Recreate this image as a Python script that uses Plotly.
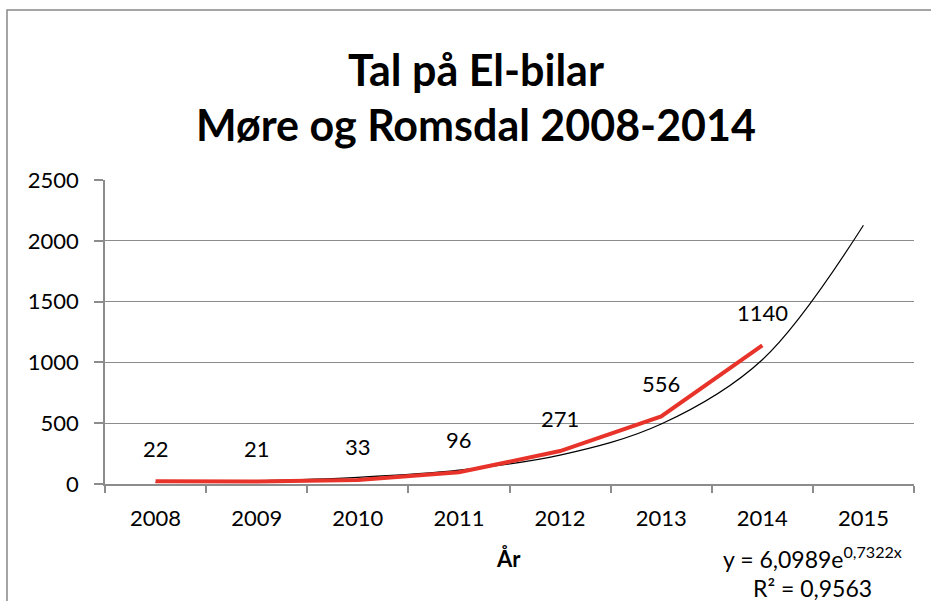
import plotly.graph_objects as go

years = ["2008", "2009", "2010", "2011", "2012", "2013", "2014", "2015"]
data_years = ["2008", "2009", "2010", "2011", "2012", "2013", "2014"]
cars = [22, 21, 33, 96, 271, 556, 1140]
# Trendline values at each category
trend = [13, 26, 55, 114, 237, 493, 1022, 2128]
y_ticks = [0, 500, 1000, 1500, 2000, 2500]

FONT = "Lato, Carlito, Calibri, sans-serif"
GRID = "#8c8c8c"


def py(p):
    """pixel row -> paper y (plot area: 180..484)"""
    return (484 - p) / 304.0


def px(p):
    """pixel column -> paper x (plot area: 105..914)"""
    return (p - 105) / 809.0


fig = go.Figure()
fig.add_trace(go.Scatter(
    x=years, y=trend, mode="lines",
    line=dict(color="black", width=1.2, shape="spline", smoothing=1.0),
    showlegend=False, hoverinfo="skip"))
fig.add_trace(go.Scatter(
    x=data_years, y=cars, mode="lines",
    line=dict(color="#e8332a", width=4),
    showlegend=False))

for i, yv in enumerate(cars):
    fig.add_annotation(x=i, y=yv, xref="x", yref="y", text=str(yv), showarrow=False,
                       yshift=33, xanchor="center", yanchor="middle",
                       font=dict(size=22, color="black", family=FONT))


def label(text, x, y, size, bold=False):
    fig.add_annotation(xref="paper", yref="paper", x=px(x), y=py(y),
                       text=f"<b>{text}</b>" if bold else text, showarrow=False,
                       xanchor="center", yanchor="middle",
                       font=dict(size=size, color="black", family=FONT))


label("Tal på El-bilar", 476, 70, 43, bold=True)
label("Møre og Romsdal 2008-2014", 476, 125, 43, bold=True)
label("År", 508, 558, 22, bold=True)
label("y = 6,0989e<sup>0,7322x</sup>", 812, 557, 23)
label("R² = 0,9563", 812, 588, 23)

fig.add_shape(type="rect", xref="paper", yref="paper",
              x0=px(7), y0=-2, x1=3, y1=py(10),
              line=dict(color="#888888", width=1.5), fillcolor="rgba(0,0,0,0)")

fig.update_layout(
    width=931, height=601,
    margin=dict(l=105, r=17, t=180, b=117),
    paper_bgcolor="white", plot_bgcolor="white",
    font=dict(family=FONT, color="black"),
    xaxis=dict(type="category", categoryorder="array", categoryarray=years,
               range=[-0.5, 7.5], tickson="boundaries", ticks="outside",
               ticklen=7, tickcolor=GRID, tickwidth=1.5,
               showline=True, linecolor=GRID, linewidth=1.5,
               showgrid=False, tickfont=dict(size=22, family=FONT),
               ticklabelstandoff=14),
    yaxis=dict(range=[0, 2500], tickvals=y_ticks, ticks="outside",
               ticklen=9, tickcolor=GRID, tickwidth=1.5,
               showline=True, linecolor=GRID, linewidth=1.5,
               showgrid=True, gridcolor=GRID, gridwidth=1.2,
               zeroline=False, tickfont=dict(size=22, family=FONT),
               ticklabelstandoff=11),
)

fig.write_html("out.html", config={"displayModeBar": False},
               post_script="document.body.style.margin='0';document.body.style.padding='0';")
